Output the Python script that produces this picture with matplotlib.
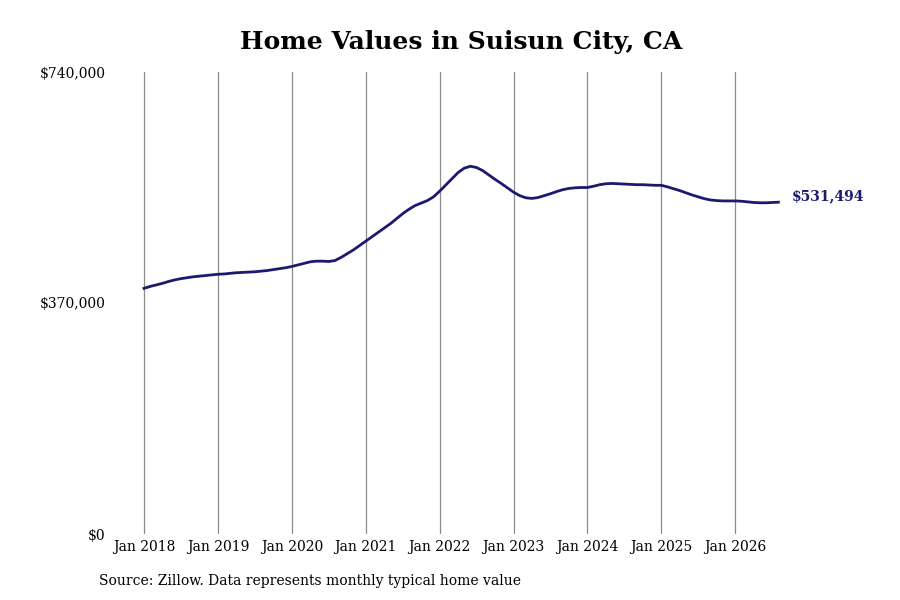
import matplotlib
matplotlib.use("Agg")
import matplotlib.pyplot as plt

plt.rcParams['font.family'] = 'DejaVu Serif'

# monthly typical home value, Jan 2018 .. Aug 2026 (thousands of dollars)
values_k = [
    393.5, 396.5, 399, 401.5, 404.5, 407, 409, 410.5, 412, 413, 414, 415,
    416, 416.5, 417.5, 418.5, 419, 419.5, 420, 421, 422, 423.5, 425, 426.5,
    428.5, 431, 433.5, 436, 437, 437, 436.5, 438, 443, 449, 455, 462,
    469, 476, 483, 490, 497, 505, 513, 520, 526, 530, 534, 540,
    549, 559, 569, 579, 586, 589, 587, 582, 575, 568, 561.5, 554.5,
    547.5, 542, 538.5, 537.5, 539, 542, 545, 548.5, 551.5, 553.5, 554.5, 555,
    555, 557, 559.5, 561, 561.5, 561, 560.5, 560, 559.5, 559.5, 559, 558.5,
    558.5, 556, 553, 550, 546.5, 543, 540, 537, 535, 534, 533.5, 533.5,
    533.5, 533, 532, 531, 530.5, 530.5, 531, 531.494,
]
values = [v * 1000 for v in values_k]
months = list(range(len(values)))

tick_months = [0, 12, 24, 36, 48, 60, 72, 84, 96]
tick_labels = ['Jan 2018', 'Jan 2019', 'Jan 2020', 'Jan 2021', 'Jan 2022',
               'Jan 2023', 'Jan 2024', 'Jan 2025', 'Jan 2026']
y_ticks = [0, 370000, 740000]
y_labels = ['$0', '$370,000', '$740,000']
last_label = '$531,494'

line_color = '#1c1a70'

fig = plt.figure(figsize=(9, 6), dpi=100)
ax = fig.add_axes([110 / 900, 66 / 600, 770 / 900, 462 / 600])

ax.plot(months, values, color=line_color, linewidth=2)

ax.set_xlim(-5.52, 119.5)
ax.set_ylim(0, 740000)
ax.set_xticks(tick_months)
ax.set_xticklabels(tick_labels, fontsize=10)
ax.set_yticks(y_ticks)
ax.set_yticklabels(y_labels, fontsize=10)
ax.tick_params(axis='both', length=0)
ax.tick_params(axis='y', pad=3)
ax.tick_params(axis='x', pad=4)
ax.grid(axis='x', color='#8c8c8c', linewidth=0.9)
ax.set_axisbelow(True)
for s in ax.spines.values():
    s.set_visible(False)

ax.annotate(last_label, (months[-1], values[-1]), xytext=(9.5, 4),
            textcoords='offset points', color=line_color, fontsize=10,
            fontweight='bold', va='center', ha='left')

fig.text(461.5 / 900, 1 - 42 / 600, 'Home Values in Suisun City, CA',
         ha='center', va='center', fontsize=18, fontweight='bold')
fig.text(99 / 900, 1 - 581 / 600, 'Source: Zillow. Data represents monthly typical home value',
         ha='left', va='center', fontsize=10)

fig.savefig('out.png', dpi=100)
